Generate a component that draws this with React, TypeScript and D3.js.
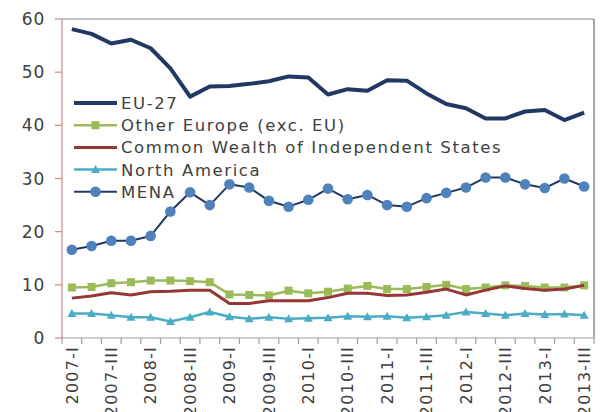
import * as d3 from "d3";

const quarters = [
  "2007-I", "2007-II", "2007-III", "2007-IV",
  "2008-I", "2008-II", "2008-III", "2008-IV",
  "2009-I", "2009-II", "2009-III", "2009-IV",
  "2010-I", "2010-II", "2010-III", "2010-IV",
  "2011-I", "2011-II", "2011-III", "2011-IV",
  "2012-I", "2012-II", "2012-III", "2012-IV",
  "2013-I", "2013-II", "2013-III",
];

// every second quarter gets a label
const tickLabels = [
  "2007-I", "2007-III", "2008-I", "2008-III", "2009-I", "2009-III", "2010-I",
  "2010-III", "2011-I", "2011-III", "2012-I", "2012-III", "2013-I", "2013-III",
];

const yTicks = [0, 10, 20, 30, 40, 50, 60];

const eu27 = [58.1, 57.2, 55.4, 56.1, 54.5, 50.7, 45.4, 47.3, 47.4, 47.8, 48.3, 49.2, 49.0, 45.8, 46.8, 46.5, 48.5, 48.4, 46.0, 44.0, 43.2, 41.3, 41.3, 42.6, 42.9, 41.0, 42.4];
const otherEurope = [9.5, 9.6, 10.3, 10.5, 10.8, 10.8, 10.7, 10.5, 8.2, 8.1, 8.0, 8.9, 8.4, 8.7, 9.3, 9.8, 9.2, 9.2, 9.6, 10.0, 9.2, 9.5, 9.9, 9.8, 9.5, 9.5, 9.9];
const cis = [7.5, 7.9, 8.5, 8.1, 8.7, 8.8, 9.0, 9.0, 6.5, 6.5, 7.0, 7.0, 7.0, 7.6, 8.4, 8.4, 8.0, 8.1, 8.6, 9.2, 8.1, 9.0, 9.8, 9.3, 9.0, 9.2, 9.9];
const northAmerica = [4.6, 4.6, 4.3, 3.9, 3.9, 3.1, 3.9, 4.9, 4.0, 3.6, 3.9, 3.6, 3.7, 3.8, 4.1, 4.0, 4.1, 3.8, 4.0, 4.3, 4.9, 4.6, 4.3, 4.6, 4.4, 4.5, 4.3];
const mena = [16.6, 17.3, 18.3, 18.3, 19.2, 23.8, 27.4, 25.0, 28.9, 28.3, 25.8, 24.7, 26.0, 28.1, 26.1, 26.9, 25.0, 24.7, 26.3, 27.3, 28.3, 30.2, 30.2, 28.9, 28.2, 30.0, 28.5];

type Marker = "none" | "square" | "triangle" | "circle";

interface Series {
  name: string;
  values: number[];
  stroke: string;
  width: number;
  marker: Marker;
  markerFill: string;
}

const series: Series[] = [
  { name: "EU-27", values: eu27, stroke: "#1f3864", width: 4, marker: "none", markerFill: "" },
  { name: "Other Europe (exc. EU)", values: otherEurope, stroke: "#9bbb59", width: 2.5, marker: "square", markerFill: "#9bbb59" },
  { name: "Common Wealth of Independent States", values: cis, stroke: "#953735", width: 3, marker: "none", markerFill: "" },
  { name: "North America", values: northAmerica, stroke: "#4bacc6", width: 2.5, marker: "triangle", markerFill: "#4bacc6" },
  { name: "MENA", values: mena, stroke: "#1f3864", width: 2, marker: "circle", markerFill: "#4f81bd" },
];

const W = 601;
const H = 412;
const margin = { top: 19, right: 7, bottom: 74, left: 62 };
const font = "'DejaVu Sans', sans-serif";
const textColor = "#404040";

function MarkerShape({ type, x, y, fill }: { type: Marker; x: number; y: number; fill: string }) {
  if (type === "square") return <rect x={x - 4} y={y - 4} width={8} height={8} fill={fill} />;
  if (type === "circle") return <circle cx={x} cy={y} r={5.3} fill={fill} />;
  if (type === "triangle")
    return <path d={`M${x},${y - 4.5}L${x + 4.5},${y + 3.5}L${x - 4.5},${y + 3.5}Z`} fill={fill} />;
  return null;
}

export default function App() {
  const x = d3
    .scaleBand<string>()
    .domain(quarters)
    .range([margin.left, W - margin.right])
    .padding(0);
  const y = d3.scaleLinear().domain([0, 60]).range([H - margin.bottom, margin.top]);
  const cx = (q: string) => (x(q) ?? 0) + x.bandwidth() / 2;

  const line = d3
    .line<number>()
    .x((_, i) => cx(quarters[i]))
    .y((d) => y(d));

  const x0 = margin.left;
  const x1 = W - margin.right;
  const y0 = H - margin.bottom;
  const y1 = margin.top;

  return (
    <svg
      width={W}
      height={H}
      style={{ position: "absolute", left: 0, top: 0, background: "#fff" }}
      fontFamily={font}
    >
      {/* plot border */}
      <line x1={x0} x2={x1} y1={y1} y2={y1} stroke="#b0b0b0" strokeWidth={1.5} />
      <line x1={x1} x2={x1} y1={y1} y2={y0} stroke="#888" strokeWidth={1.5} />

      {/* y axis */}
      <line x1={x0} x2={x0} y1={y1} y2={y0} stroke="#c98a88" strokeWidth={1.2} />
      {yTicks.map((t) => (
        <g key={t}>
          <line x1={x0 - 7} x2={x0} y1={y(t)} y2={y(t)} stroke="#c98a88" strokeWidth={1.2} />
          <text x={45} y={y(t)} dy="0.36em" textAnchor="end" fontSize={17} letterSpacing={0.8} fill={textColor}>
            {t}
          </text>
        </g>
      ))}

      {/* x axis */}
      <line x1={x0} x2={x1} y1={y0} y2={y0} stroke="#a0a0a0" strokeWidth={1.2} />
      {quarters.concat([""]).map((q, i) => {
        const px = i < quarters.length ? x(q) ?? 0 : x1;
        return <line key={"t" + i} x1={px} x2={px} y1={y0} y2={y0 + 6} stroke="#a0a0a0" strokeWidth={1.2} />;
      })}
      {tickLabels.map((q) => (
        <text
          key={q}
          transform={`translate(${cx(q)},${y0 + 8}) rotate(-90)`}
          dy="0.36em"
          textAnchor="end"
          fontSize={16}
          letterSpacing={1.2}
          fill={textColor}
        >
          {q}
        </text>
      ))}

      {/* series */}
      {series.map((s) => (
        <g key={s.name}>
          <path d={line(s.values) ?? ""} fill="none" stroke={s.stroke} strokeWidth={s.width} strokeLinejoin="round" />
          {s.marker !== "none" &&
            s.values.map((v, i) => (
              <MarkerShape key={i} type={s.marker} x={cx(quarters[i])} y={y(v)} fill={s.markerFill} />
            ))}
        </g>
      ))}

      {/* legend */}
      {series.map((s, i) => {
        const ly = 103 + i * 22.2;
        return (
          <g key={"lg" + s.name}>
            <line x1={74} x2={117} y1={ly} y2={ly} stroke={s.stroke} strokeWidth={s.width} />
            <MarkerShape type={s.marker} x={95.5} y={ly} fill={s.markerFill} />
            <text x={121} y={ly} dy="0.36em" fontSize={16.5} letterSpacing={1.6} fill={textColor}>
              {s.name}
            </text>
          </g>
        );
      })}
    </svg>
  );
}
